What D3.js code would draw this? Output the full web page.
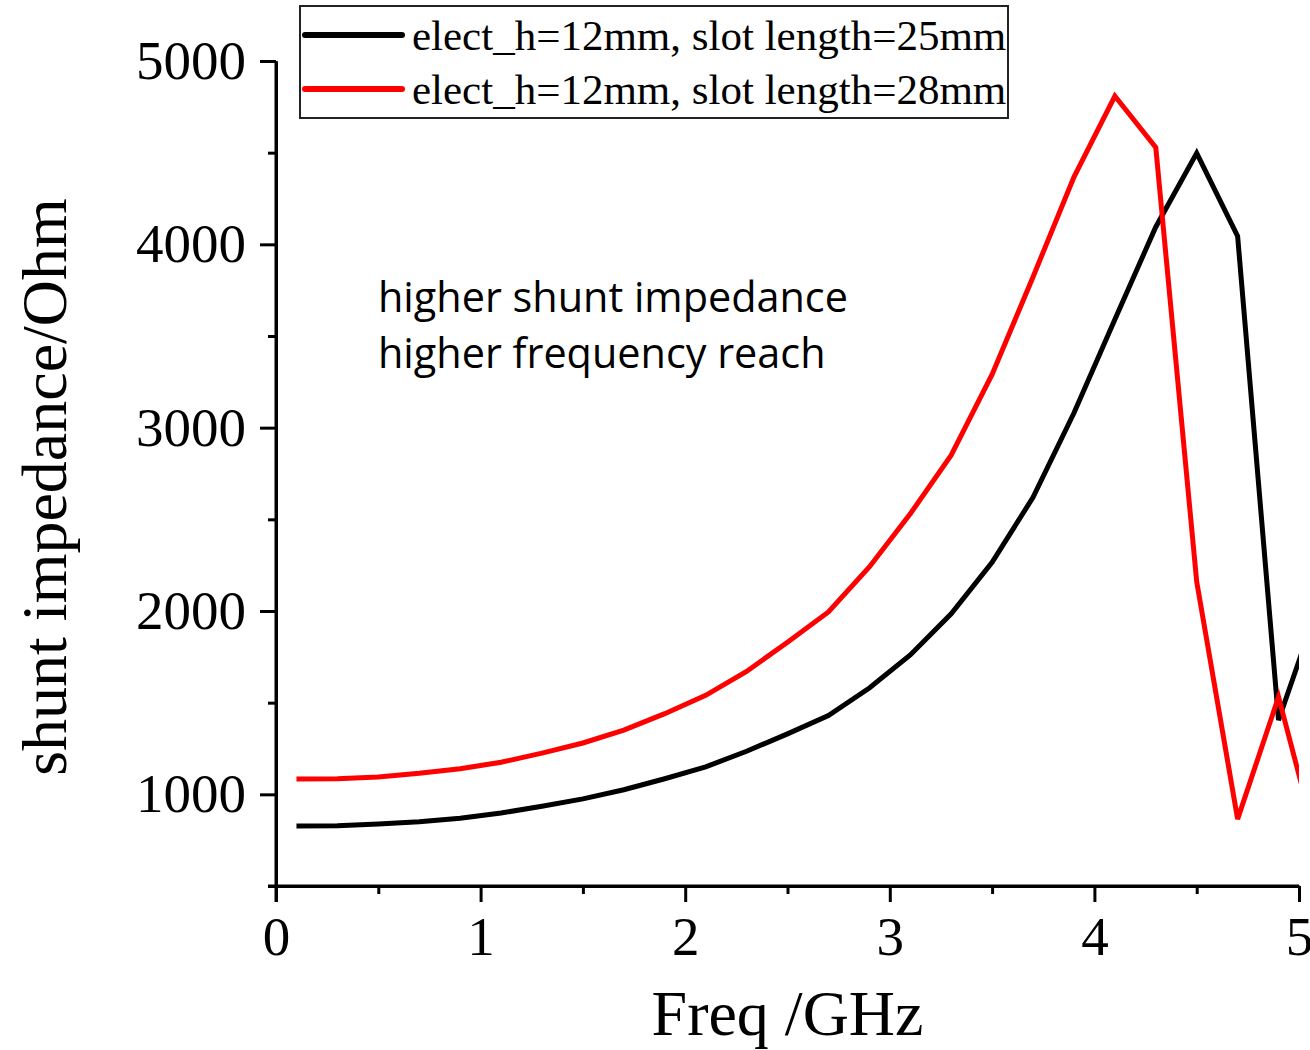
<!DOCTYPE html>
<html>
<head>
<meta charset="utf-8">
<script src="https://cdn.jsdelivr.net/npm/d3@7"></script>
<style>
  body { margin: 0; background: #fff; }
  .axis path, .axis line { stroke: #000; stroke-width: 3; }
  .axis text { font-family: "Liberation Serif", "Times New Roman", serif; font-size: 55px; fill: #000; }
</style>
</head>
<body>
<script>
// frequency samples (GHz)
const freq = [0.1, 0.3, 0.5, 0.7, 0.9, 1.1, 1.3, 1.5, 1.7, 1.9, 2.1, 2.3, 2.5, 2.7, 2.9,
              3.1, 3.3, 3.5, 3.7, 3.9, 4.1, 4.3, 4.5, 4.7, 4.9, 5.1];

// shunt impedance (Ohm)
const slot25 = [827, 828, 838, 850, 870, 898, 935, 975, 1025, 1085, 1150, 1235, 1330, 1430, 1580,
                1760, 1985, 2265, 2620, 3080, 3590, 4095, 4498, 4045, 1405, 2050];
const slot28 = [1084, 1085, 1095, 1115, 1140, 1175, 1225, 1280, 1350, 1440, 1540, 1670, 1830, 1995, 2240,
                2530, 2850, 3290, 3822, 4367, 4809, 4528, 2160, 865, 1531, 680];

const seriesNames = ['elect_h=12mm, slot length=25mm', 'elect_h=12mm, slot length=28mm'];
const seriesColors = ['#000000', '#ff0000'];

const xTicks = [0, 1, 2, 3, 4, 5];
const xMinor = [0.5, 1.5, 2.5, 3.5, 4.5];
const yTicks = [1000, 2000, 3000, 4000, 5000];
const yMinor = [500, 1500, 2500, 3500, 4500];

const note = ['higher shunt impedance', 'higher frequency reach'];

const W = 1310, H = 1050;
const plot = { left: 276, right: 1299, top: 61, bottom: 886 };

const svg = d3.select('body').append('svg')
    .attr('width', W)
    .attr('height', H);

const x = d3.scaleLinear().domain([0, 5]).range([plot.left, plot.right]);
const y = d3.scaleLinear().domain([500, 5000]).range([plot.bottom, plot.top]);

//clip lines at the right edge of the plot
svg.append('clipPath').attr('id', 'clip')
  .append('rect')
    .attr('x', plot.left)
    .attr('y', 0)
    .attr('width', plot.right - plot.left)
    .attr('height', H);

//minor ticks
svg.append('g')
    .attr('class', 'axis')
    .attr('transform', `translate(0,${plot.bottom})`)
    .call(d3.axisBottom(x).tickValues(xMinor).tickSize(8).tickSizeOuter(0).tickFormat(''));

svg.append('g')
    .attr('class', 'axis')
    .attr('transform', `translate(${plot.left},0)`)
    .call(d3.axisLeft(y).tickValues(yMinor).tickSize(8).tickSizeOuter(0).tickFormat(''));

//major ticks
const xAxis = svg.append('g')
    .attr('class', 'axis')
    .attr('transform', `translate(0,${plot.bottom})`)
    .call(d3.axisBottom(x).tickValues(xTicks).tickSize(16).tickSizeOuter(0).tickPadding(14).tickFormat(d3.format('d')));

const yAxis = svg.append('g')
    .attr('class', 'axis')
    .attr('transform', `translate(${plot.left},0)`)
    .call(d3.axisLeft(y).tickValues(yTicks).tickSize(16).tickSizeOuter(0).tickPadding(14).tickFormat(d3.format('d')));

xAxis.select('.domain').attr('d', `M${plot.left - 8},0H${plot.right}`);
yAxis.select('.domain').attr('d', `M0,${plot.top}V${plot.bottom + 16}`);

//lines
const line = d3.line()
    .x((d, i) => x(freq[i]))
    .y(d => y(d));

svg.append('g').attr('clip-path', 'url(#clip)')
  .selectAll('path')
  .data([slot25, slot28])
  .enter().append('path')
    .attr('d', line)
    .attr('fill', 'none')
    .attr('stroke', (d, i) => seriesColors[i])
    .attr('stroke-width', 5)
    .attr('stroke-linejoin', 'miter');

//axis titles
svg.append('text')
    .attr('x', (plot.left + plot.right) / 2)
    .attr('y', 1035)
    .attr('text-anchor', 'middle')
    .style('font-family', '"Liberation Serif", "Times New Roman", serif')
    .style('font-size', '64px')
    .text('Freq /GHz');

svg.append('text')
    .attr('transform', 'translate(66,487) rotate(-90)')
    .attr('text-anchor', 'middle')
    .style('font-family', '"Liberation Serif", "Times New Roman", serif')
    .style('font-size', '64px')
    .text('shunt impedance/Ohm');

//legend
const legend = svg.append('g').attr('class', 'legend');

legend.append('rect')
    .attr('x', 300)
    .attr('y', 6)
    .attr('width', 708)
    .attr('height', 112)
    .attr('fill', '#fff')
    .attr('stroke', '#222')
    .attr('stroke-width', 2);

const items = legend.selectAll('g.item')
  .data(seriesNames)
  .enter().append('g')
    .attr('class', 'item')
    .attr('transform', (d, i) => `translate(0,${35 + i * 54})`);

items.append('line')
    .attr('x1', 305)
    .attr('x2', 402)
    .attr('stroke', (d, i) => seriesColors[i])
    .attr('stroke-width', 6)
    .attr('stroke-linecap', 'round');

items.append('text')
    .attr('x', 412)
    .attr('y', 15)
    .style('font-family', '"Liberation Serif", "Times New Roman", serif')
    .style('font-size', '43px')
    .text(d => d);

//annotation, sized so the first line is as wide as in the original
const noteText = svg.append('g').selectAll('text')
  .data(note)
  .enter().append('text')
    .attr('x', 378)
    .attr('y', (d, i) => 312 + i * 56)
    .style('font-family', '"Open Sans", "Noto Sans", sans-serif')
    .style('font-size', '40px')
    .text(d => d);

const w0 = noteText.node().getComputedTextLength();
noteText.style('font-size', (40 * 470 / w0) + 'px');
</script>
</body>
</html>
